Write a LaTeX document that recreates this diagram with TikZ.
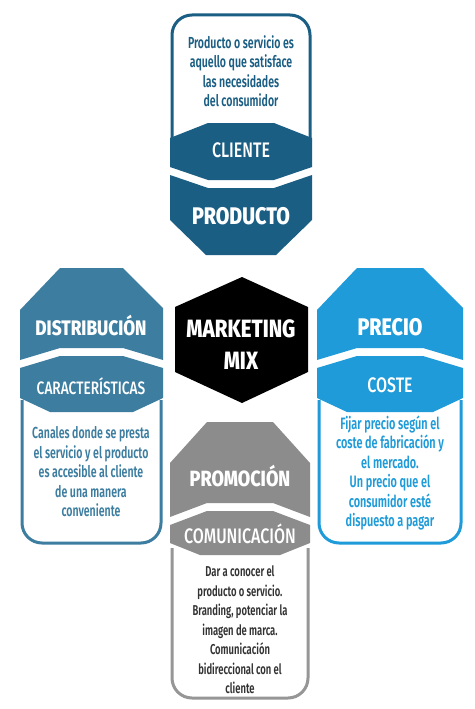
\documentclass[tikz,border=0pt]{standalone}
\usepackage{fontspec}
\setmainfont{Fira Sans}[FakeStretch=0.78]
\newfontfamily\headfont{Fira Sans ExtraBold}[FakeStretch=0.82]
\newfontfamily\subfont{Fira Sans Medium}[FakeStretch=0.76]
\newfontfamily\bodyfont{Fira Sans SemiBold}[FakeStretch=0.66]

\tikzset{
  headtext/.style={text=white, anchor=base, inner sep=0pt, font=\headfont\fontsize{24}{26}\selectfont},
  subtext/.style={text=white, anchor=base, inner sep=0pt, font=\subfont\fontsize{21}{22}\selectfont},
  bodytext/.style={align=center, inner sep=0pt, font=\bodyfont\fontsize{16}{19.5}\selectfont},
  boxline/.style={line width=3pt, rounded corners=20pt},
}

\begin{document}
\begin{tikzpicture}[x=1pt, y=-1pt]

  % Custom colours
  \definecolor{topc}{RGB}{27, 94, 132}
  \definecolor{leftc}{RGB}{60, 125, 160}
  \definecolor{rightc}{RGB}{30, 155, 216}
  \definecolor{greyc}{RGB}{140, 140, 140}
  \definecolor{greyl}{RGB}{150, 150, 150}
  \definecolor{greyt}{RGB}{50, 50, 50}

  \useasboundingbox[fill=white] (0,0) rectangle (474,709);

  % Top block: PRODUCTO
  \draw[boxline, topc] (172,140) -- (172,15) -- (310,15) -- (310,140);
  \fill[topc] (170,138) -- (208,123) -- (274,123) -- (312,138) -- (312,167) -- (274,180) -- (208,180) -- (170,167) -- cycle;
  \fill[topc] (170,175) -- (208,188) -- (274,188) -- (312,175) -- (312,220) -- (276,255) -- (206,255) -- (170,220) -- cycle;
  \node[bodytext, text=topc] (prodtext) at (241,71) {Producto o servicio es\\aquello que satisface\\las necesidades\\del consumidor};
  \node[subtext] (cliente) at (241,157) {CLIENTE};
  \node[headtext] (producto) at (241,224) {PRODUCTO};

  % Left block: DISTRIBUCION
  \fill[leftc] (20,310) -- (60,268) -- (123,268) -- (163,308) -- (163,360) -- (123,348) -- (60,348) -- (20,360) -- cycle;
  \fill[leftc] (20,368) -- (60,356) -- (123,356) -- (163,368) -- (163,398) -- (133,412) -- (50,412) -- (20,398) -- cycle;
  \draw[boxline, leftc] (22,400) -- (22,543) -- (161,543) -- (161,400);
  \node[headtext, font=\headfont\fontsize{21}{24}\selectfont] (distrib) at (91,335) {DISTRIBUCIÓN};
  \node[subtext, font=\subfont\fontsize{18}{20}\selectfont] (caract) at (91,394) {CARACTERÍSTICAS};
  \node[bodytext, text=leftc] (distext) at (91,472) {Canales donde se presta\\el servicio y el producto\\es accesible al cliente\\de una manera\\conveniente};

  % Right block: PRECIO
  \fill[rightc] (317,310) -- (357,268) -- (423,268) -- (463,308) -- (463,360) -- (423,348) -- (357,348) -- (317,360) -- cycle;
  \fill[rightc] (317,368) -- (357,356) -- (423,356) -- (463,368) -- (463,398) -- (433,412) -- (347,412) -- (317,398) -- cycle;
  \draw[boxline, rightc] (319,400) -- (319,543) -- (461,543) -- (461,400);
  \node[headtext] (precio) at (390,335) {PRECIO};
  \node[subtext] (coste) at (390,392) {COSTE};
  \node[bodytext, text=rightc, font=\bodyfont\fontsize{16.5}{19.5}\selectfont] (pretext) at (390,473) {Fijar precio según el\\coste de fabricación y\\el mercado.\\Un precio que el\\consumidor esté\\dispuesto a pagar};

  % Bottom block: PROMOCION
  \fill[greyc] (170,463) -- (207,422) -- (273,422) -- (310,463) -- (310,517) -- (273,503) -- (207,503) -- (170,517) -- cycle;
  \fill[greyc] (170,525) -- (207,511) -- (273,511) -- (310,525) -- (310,543) -- (280,555) -- (200,555) -- (170,543) -- cycle;
  \draw[boxline, greyl] (172,548) -- (172,698) -- (308,698) -- (308,548);
  \node[headtext, font=\headfont\fontsize{22}{24}\selectfont] (promo) at (240,486) {PROMOCIÓN};
  \node[subtext] (comunic) at (240,543) {COMUNICACIÓN};
  \node[bodytext, text=greyt, font=\bodyfont\fontsize{14.3}{19.5}\selectfont] (promtext) at (240,630) {Dar a conocer el\\producto o servicio.\\Branding, potenciar la\\imagen de marca.\\Comunicación\\bidireccional con el\\cliente};

  % Centre hexagon
  \fill[black] (242,277) -- (308,307) -- (308,372) -- (242,403) -- (175,372) -- (175,307) -- cycle;
  \node[headtext, font=\headfont\fontsize{25}{26}\selectfont] (mix) at (241,337) {MARKETING};
  \node[headtext, font=\headfont\fontsize{25}{26}\selectfont] (mix2) at (241,369) {MIX};

\end{tikzpicture}
\end{document}
